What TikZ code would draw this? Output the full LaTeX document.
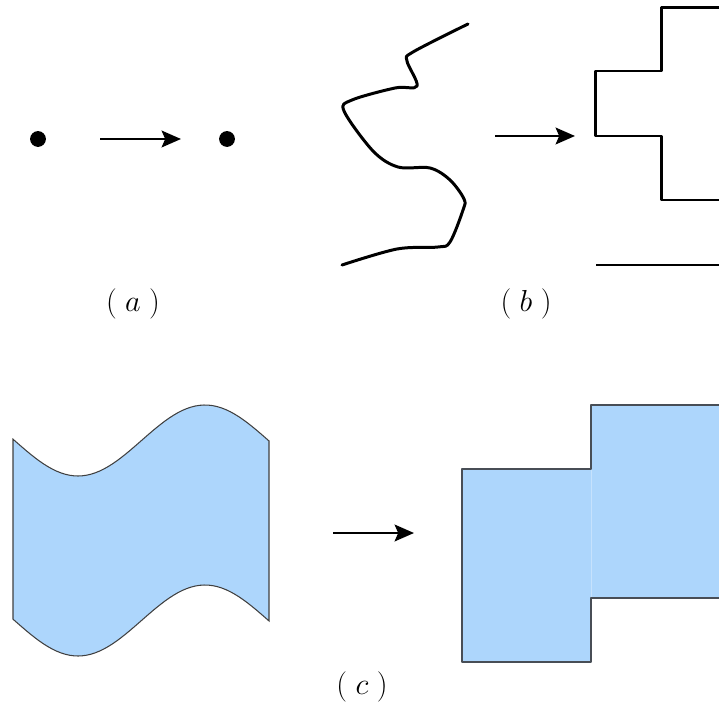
\documentclass[tikz,border=0pt]{standalone}
\usetikzlibrary{arrows.meta, positioning}
\definecolor{regionfill}{RGB}{173,214,252}
\definecolor{regionedge}{RGB}{72,78,86}

\begin{document}
\begin{tikzpicture}[x=0.02cm, y=-0.02cm]
    \tikzstyle{dot} = [circle, fill=black, inner sep=0pt, minimum size=9pt]
    \tikzstyle{morph} = [-{Stealth[length=11pt, width=9.5pt, inset=2pt]}, line width=1.5pt]
    \tikzstyle{caption} = [font=\fontsize{19}{22}\selectfont]
    \tikzstyle{stroke} = [line width=1.7pt, line join=round, line cap=round]
    \clip (0,0) rectangle (719,705);

    % (a) point to point
    \node[dot] (pt_left) at (38,139) {};
    \node[dot] (pt_right) at (227,139) {};
    \coordinate (a_from) at (100,139);
    \coordinate (a_to) at (181,139);
    \draw[morph] (a_from) -- (a_to);
    \node[caption] (cap_a) at (133,304) {$(\;a\;)$};

    % (b) curve to staircase
    \draw[stroke] plot[smooth, tension=0.55] coordinates {(468,24) (413,52) (407,61) (417,86) (395,88) (352,100) (344,111) (373,151) (398,167) (430,168) (450,180) (464,199) (463,210) (450,242) (438,247) (397,249) (342,265)};
    \coordinate (b_from) at (495,136);
    \coordinate (b_to) at (575,136);
    \draw[morph] (b_from) -- (b_to);
    \draw[stroke, line cap=butt] (725,8) -- (661,8) -- (661,71) -- (595,71) -- (595,136) -- (661,136) -- (661,200) -- (725,200);
    \draw[stroke, line cap=butt] (596,265) -- (725,265);
    \node[caption] (cap_b) at (526,304) {$(\;b\;)$};

    % (c) region to blocks
    \filldraw[fill=regionfill, draw=black!75, line width=0.6pt]
        plot[domain=13:269, samples=60] (\x, {440.5+35.5*cos(((\x-78)/127)*180)})
        -- plot[domain=269:13, samples=60] (\x, {620.5+35.5*cos(((\x-78)/127)*180)}) -- cycle;
    \coordinate (c_from) at (333,533);
    \coordinate (c_to) at (414,533);
    \draw[morph] (c_from) -- (c_to);
    \filldraw[fill=regionfill, draw=regionedge, line width=1.1pt, line join=round]
        (462,469) -- (591,469) -- (591,405) -- (730,405) -- (730,598) -- (591,598) -- (591,662) -- (462,662) -- cycle;
    \draw[regionfill!70!white, line width=0.4pt] (591,470) -- (591,597);
    \node[caption] (cap_c) at (362,687) {$(\;c\;)$};
\end{tikzpicture}
\end{document}
